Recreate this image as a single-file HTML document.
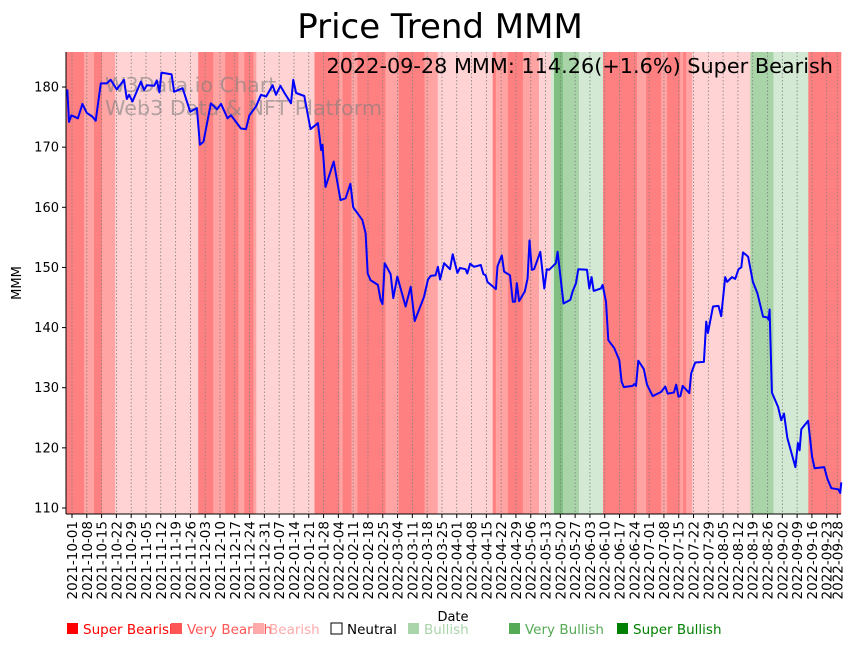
<!DOCTYPE html>
<html><head><meta charset="utf-8"><style>
body{margin:0;background:#fff;width:860px;height:646px;overflow:hidden;font-family:"Liberation Sans","DejaVu Sans",sans-serif}
svg text{font-family:"DejaVu Sans","Liberation Sans",sans-serif}
</style></head><body>
<svg id="chart" width="860" height="646" viewBox="0 0 860 646" xmlns="http://www.w3.org/2000/svg">
<g id="bands"></g>
<g id="grid"></g>
<text x="105" y="92" font-size="20.7" fill="#808080" fill-opacity="0.6">W3Data.io Chart</text>
<text x="105" y="115" font-size="20.7" fill="#808080" fill-opacity="0.6">Web3 Data &amp; NFT Platform</text>
<g id="series"></g>
<g id="axes"></g>
<text x="440" y="38" font-size="34" text-anchor="middle" fill="#000">Price Trend MMM</text>
<text x="833" y="73" font-size="20.8" text-anchor="end" fill="#000">2022-09-28 MMM: 114.26(+1.6%) Super Bearish</text>
<text transform="translate(21,283) rotate(-90)" font-size="13" text-anchor="middle">MMM</text>
<text x="453" y="621" font-size="13" text-anchor="middle">Date</text>
<g id="legend"></g>
</svg>
<script>
// day offsets from 2021-10-01 and prices
const days = [-2.2,-1.4,-0.3,2.8,4.9,7.0,9.6,11.2,13.6,16.4,18.3,21.2,24.6,25.9,27.0,28.6,32.6,34.1,35.4,38.9,40.1,41.4,42.3,47.1,48.3,52.3,55.9,59.1,60.5,62.2,65.7,68.6,70.5,73.6,75.2,77.6,79.9,82.3,83.9,87.1,89.4,91.8,94.9,96.5,98.6,100.5,103.6,104.7,106.0,109.9,112.8,116.3,117.9,118.5,119.9,123.8,127.0,129.4,131.7,133.0,137.3,138.9,139.9,141.2,144.7,146.0,146.9,147.9,150.7,152.0,153.9,157.8,160.2,162.1,166.5,168.4,169.7,172.0,173.1,174.1,176.0,178.8,180.1,182.3,183.5,186.2,187.0,188.3,190.2,193.4,194.6,195.7,196.5,200.5,201.3,203.3,204.4,207.2,208.5,209.6,210.4,211.5,214.2,215.5,216.4,217.5,218.6,221.5,223.4,224.6,225.7,228.9,229.7,232.5,235.7,236.8,238.4,239.5,243.6,244.7,245.8,246.8,250.2,251.0,252.6,253.7,256.5,258.9,260.0,261.0,265.2,266.0,266.8,267.9,270.5,272.0,274.7,278.7,280.6,281.8,284.7,285.8,286.9,287.8,288.9,292.0,292.9,294.8,298.9,300.0,300.8,303.2,305.8,307.1,309.0,309.9,312.2,313.7,315.3,316.6,317.4,319.8,322.1,324.2,326.9,328.9,329.5,330.0,331.1,334.0,335.5,336.8,338.4,342.2,343.4,344.2,345.0,348.2,350.1,351.3,355.8,357.3,359.2,362.6,363.4,363.9];
const prices = [179.6,174.2,175.3,174.8,177.2,175.7,175.1,174.4,180.6,180.6,181.2,179.6,181.2,178.0,178.7,177.6,180.9,179.5,180.3,180.2,181.1,179.1,182.4,182.1,179.2,179.8,175.9,176.5,170.4,170.9,177.3,176.3,177.2,174.8,175.3,174.2,173.1,173.0,175.3,176.8,178.7,178.4,180.3,178.7,180.2,179.0,177.3,181.2,179.0,178.5,173.0,174.0,169.5,170.4,163.4,167.6,161.2,161.5,163.9,160.0,157.9,155.7,149.0,147.9,147.1,144.6,143.9,150.7,148.9,144.9,148.5,143.5,146.8,141.1,145.1,148.0,148.6,148.7,150.1,148.0,150.7,149.7,152.2,149.1,149.9,149.7,149.0,150.6,150.1,150.4,148.9,148.7,147.6,146.4,150.2,152.0,149.3,148.7,144.3,144.3,147.4,144.4,146.0,148.2,154.5,149.6,149.7,152.6,146.5,149.7,149.6,150.7,152.6,144.0,144.6,146.0,147.4,149.7,149.6,146.5,148.4,146.1,146.5,147.1,144.3,137.9,136.6,134.6,131.0,130.1,130.3,130.6,130.3,134.5,133.1,130.5,128.6,129.3,130.2,129.0,129.2,130.5,128.5,128.6,130.3,129.1,132.4,134.2,134.3,141.0,139.1,143.5,143.6,141.9,148.4,147.6,148.4,148.1,149.7,150.0,152.5,151.8,147.6,145.7,141.8,141.7,141.3,143.0,129.2,126.8,124.6,125.7,121.6,116.8,120.8,119.6,123.1,124.5,118.5,116.6,116.8,114.9,113.3,113.1,112.5,114.26];
// sentiment bands: start day, end day, level (-3..3)
const bandStart = [-3,5.7,10.4,14.2,20.4,59.7,66.8,72.5,78.7,81.5,85.8,87.2,114.7,126.5,128,132.2,135,148.3,154.5,166.8,173,199,200.5,206.2,213.3,220.9,226.5,228,232.2,239.8,251.2,267.3,271.6,278.7,281.5,287.7,289.1,290.5,293.4,320.9,331.8,348.3];
const bandEnd = [5.7,10.4,14.2,20.4,59.7,66.8,72.5,78.7,81.5,85.8,87.2,114.7,126.5,128,132.2,135,148.3,154.5,166.8,173,199,200.5,206.2,213.3,220.9,226.5,228,232.2,239.8,251.2,267.3,271.6,278.7,281.5,287.7,289.1,290.5,293.4,320.9,331.8,348.3,364.6];
const bandLevel = [-3,-2,-3,-2,-1,-3,-2,-3,-2,-3,-2,-1,-3,-2,-3,-2,-3,-2,-3,-2,-1,-3,-2,-3,-2,-1,1,3,2,1,-3,-2,-3,-2,-3,-2,-3,-2,-1,2,1,-3];
const yTicks = [110,120,130,140,150,160,170,180];
const legendLabels = ["Super Bearish","Very Bearish","Bearish","Neutral","Bullish","Very Bullish","Super Bullish"];

const NS="http://www.w3.org/2000/svg";
const L=66,R=841,T=52,B=514;
const xS=d=>72+d*2.114;
const yS=p=>508-(p-110)*6.014;
function mk(tag,attrs,parent){const e=document.createElementNS(NS,tag);for(const k in attrs)e.setAttribute(k,attrs[k]);parent.appendChild(e);return e;}
const bandColor={"-3":"#ff8080","-2":"#ffa3a3","-1":"#ffd3d3","1":"#d3e9d3","2":"#a8d4a8","3":"#80bf80"};
const gB=document.getElementById('bands');
for(let i=0;i<bandStart.length;i++){
  const x0=Math.max(L,xS(bandStart[i])),x1=Math.min(R,xS(bandEnd[i]));
  const r=mk('rect',{x:x0,y:T,width:Math.max(0,x1-x0+0.3),height:B-T,fill:bandColor[bandLevel[i]]},gB);
  
  
}
const tickDays=[];for(let d=0;d<=357;d+=7)tickDays.push(d);tickDays.push(362);
const base=Date.UTC(2021,9,1);
const tickLabels=tickDays.map(d=>new Date(base+d*864e5).toISOString().slice(0,10));
const gG=document.getElementById('grid'),gA=document.getElementById('axes');
tickDays.forEach((d,i)=>{
  const x=xS(d);
  const g=mk('line',{x1:x,x2:x,y1:T,y2:B,stroke:'#808080','stroke-width':0.8,'stroke-dasharray':'1.5,2'},gG);
  
  
  mk('line',{x1:x,x2:x,y1:B,y2:B+4,stroke:'#000'},gA);
  const t=mk('text',{transform:`translate(${x+5},${B+7}) rotate(-90)`,'font-size':13.5,'text-anchor':'end'},gA);
  t.textContent=tickLabels[i];
  
  
});
yTicks.forEach(v=>{
  const y=yS(v);
  mk('line',{x1:L-4,x2:L,y1:y,y2:y,stroke:'#000'},gA);
  const t=mk('text',{x:L-7,y:y+4.5,'font-size':13,'text-anchor':'end'},gA);
  t.textContent=v;
  
  
});
mk('line',{x1:L,x2:L,y1:T,y2:B,stroke:'#000','stroke-width':1},gA);
mk('line',{x1:L,x2:R,y1:B,y2:B,stroke:'#000','stroke-width':1},gA);
const pts=days.map((d,i)=>xS(d).toFixed(1)+','+yS(prices[i]).toFixed(1)).join(' ');
const pl=mk('polyline',{points:pts,fill:'none',stroke:'#0000ff','stroke-width':2,'stroke-linejoin':'round'},document.getElementById('series'));


const lgX=[66,170,252,330,407,508,616];
const lgC=["#ff0000","#ff5555","#ffaaaa","#000000","#aad5aa","#55aa55","#008000"];
const gL=document.getElementById('legend');
legendLabels.forEach((s,i)=>{
  const sq=mk('rect',{x:lgX[i]+1,y:623,width:11,height:11,fill:i==3?'none':lgC[i],stroke:i==3?'#000':'none'},gL);
  
  
  const t=mk('text',{x:lgX[i]+17,y:634,'font-size':13.5,fill:lgC[i]},gL);
  t.textContent=s;
  
  
});
</script>
</body></html>
